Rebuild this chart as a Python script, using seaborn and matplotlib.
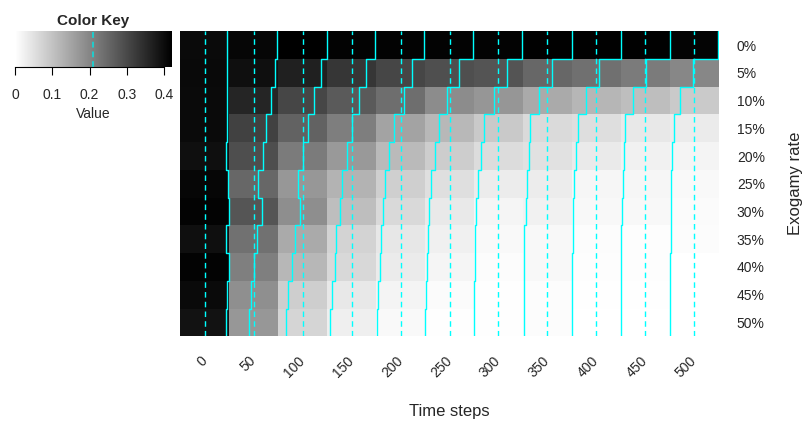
import numpy as np
import pandas as pd
import matplotlib
matplotlib.use("Agg")
import matplotlib.pyplot as plt
from matplotlib.colors import LinearSegmentedColormap
import seaborn as sns

sns.set_style("white")
plt.rcParams["font.family"] = ["Liberation Sans", "DejaVu Sans"]

# rows of the heatmap (top to bottom)
exogamy_rates = ["0%", "5%", "10%", "15%", "20%", "25%", "30%", "35%", "40%", "45%", "50%"]
# columns of the heatmap
time_steps = [0, 50, 100, 150, 200, 250, 300, 350, 400, 450, 500]

# value per exogamy rate, one list per time step
t000 = [0.403, 0.405, 0.403, 0.403, 0.395, 0.410, 0.415, 0.395, 0.415, 0.403, 0.389]
t050 = [0.410, 0.395, 0.358, 0.312, 0.292, 0.251, 0.280, 0.234, 0.211, 0.185, 0.171]
t100 = [0.420, 0.367, 0.304, 0.258, 0.217, 0.171, 0.186, 0.140, 0.119, 0.082, 0.070]
t150 = [0.414, 0.330, 0.272, 0.212, 0.168, 0.125, 0.108, 0.073, 0.065, 0.039, 0.027]
t200 = [0.414, 0.305, 0.238, 0.152, 0.114, 0.080, 0.063, 0.040, 0.034, 0.019, 0.011]
t250 = [0.414, 0.290, 0.190, 0.117, 0.083, 0.054, 0.037, 0.025, 0.017, 0.008, 0.003]
t300 = [0.414, 0.282, 0.173, 0.089, 0.058, 0.032, 0.017, 0.011, 0.006, 0.003, 0.003]
t350 = [0.418, 0.251, 0.141, 0.061, 0.050, 0.032, 0.024, 0.012, 0.012, 0.006, 0.005]
t400 = [0.418, 0.236, 0.121, 0.055, 0.035, 0.015, 0.012, 0.006, 0.004, 0.003, 0.001]
t450 = [0.418, 0.217, 0.108, 0.038, 0.024, 0.016, 0.013, 0.004, 0.004, 0.002, 0.001]
t500 = [0.412, 0.198, 0.088, 0.034, 0.019, 0.010, 0.008, 0.006, 0.001, 0.001, 0.000]

df = pd.DataFrame(
    dict(zip(time_steps, [t000, t050, t100, t150, t200, t250, t300, t350, t400, t450, t500])),
    index=exogamy_rates,
)

vmin = df.values.min()
vmax = df.values.max()
vline = (vmin + vmax) / 2  # median of the breaks, like heatmap.2

grey = LinearSegmentedColormap.from_list("white_black", ["white", "black"])

fig = plt.figure(figsize=(8.02, 4.23), dpi=100)
ax = fig.add_axes([0.2248, 0.205, 0.6714, 0.721])
sns.heatmap(df, cmap=grey, vmin=vmin, vmax=vmax, cbar=False, ax=ax)

# column traces: dashed line at the reference value, solid step line for the data
n = len(df.index)
ys = np.column_stack([np.arange(n), np.arange(n) + 1]).ravel()
for j, col in enumerate(df.columns):
    ax.axvline(j + (vline - vmin) / (vmax - vmin), color="cyan", lw=1.0,
               linestyle=(0, (4, 3)))
    xs = j + (df[col].values - vmin) / (vmax - vmin)
    ax.plot(np.repeat(xs, 2), ys, color="cyan", lw=1.0)

ax.set_xlim(0, len(df.columns))
ax.set_ylim(n, 0)

# axes labels
ax.set_xticks(np.arange(len(time_steps)) + 0.5)
ax.set_xticklabels([str(t) for t in time_steps], rotation=45, ha="right",
                   rotation_mode="anchor", fontsize=10)
for lab in ax.get_xticklabels():
    lab.set_va("center")
ax.tick_params(axis="x", length=0, pad=16)

ax.yaxis.tick_right()
ax.set_yticks(np.arange(n) + 0.5)
ax.set_yticklabels(exogamy_rates, rotation=0, ha="left", fontsize=10)
ax.tick_params(axis="y", length=0, pad=13)

ax.set_xlabel("Time steps", fontsize=12)
ax.xaxis.set_label_coords(0.5, -0.245)
ax.xaxis.label.set_va("center")
ax.set_ylabel("Exogamy rate", fontsize=12, rotation=90)
ax.yaxis.set_label_position("right")
ax.yaxis.set_label_coords(1.142, 0.5)
ax.yaxis.label.set_va("center")

# colour key
kax = fig.add_axes([0.0187, 0.8416, 0.1954, 0.0851])
cb = fig.colorbar(ax.collections[0], cax=kax, orientation="horizontal")
cb.outline.set_visible(False)
cb.set_ticks([0, 0.1, 0.2, 0.3, 0.4])
cb.set_ticklabels(["0", "0.1", "0.2", "0.3", "0.4"])
kax.tick_params(axis="x", direction="out", length=5.5, width=0.8, pad=9.5,
                labelsize=10, color="black")
kax.spines["bottom"].set_visible(True)
kax.spines["bottom"].set_bounds(0, 0.4)
kax.spines["bottom"].set_color("black")
kax.spines["bottom"].set_linewidth(0.8)
kax.axvline(vline, color="#22cccc", lw=1.4, linestyle=(0, (3, 2)))
kax.set_xlabel("Value", fontsize=10, labelpad=4)
kax.set_title("Color Key", fontsize=11, fontweight="bold", pad=4.5)

fig.savefig("out.png", dpi=100)
